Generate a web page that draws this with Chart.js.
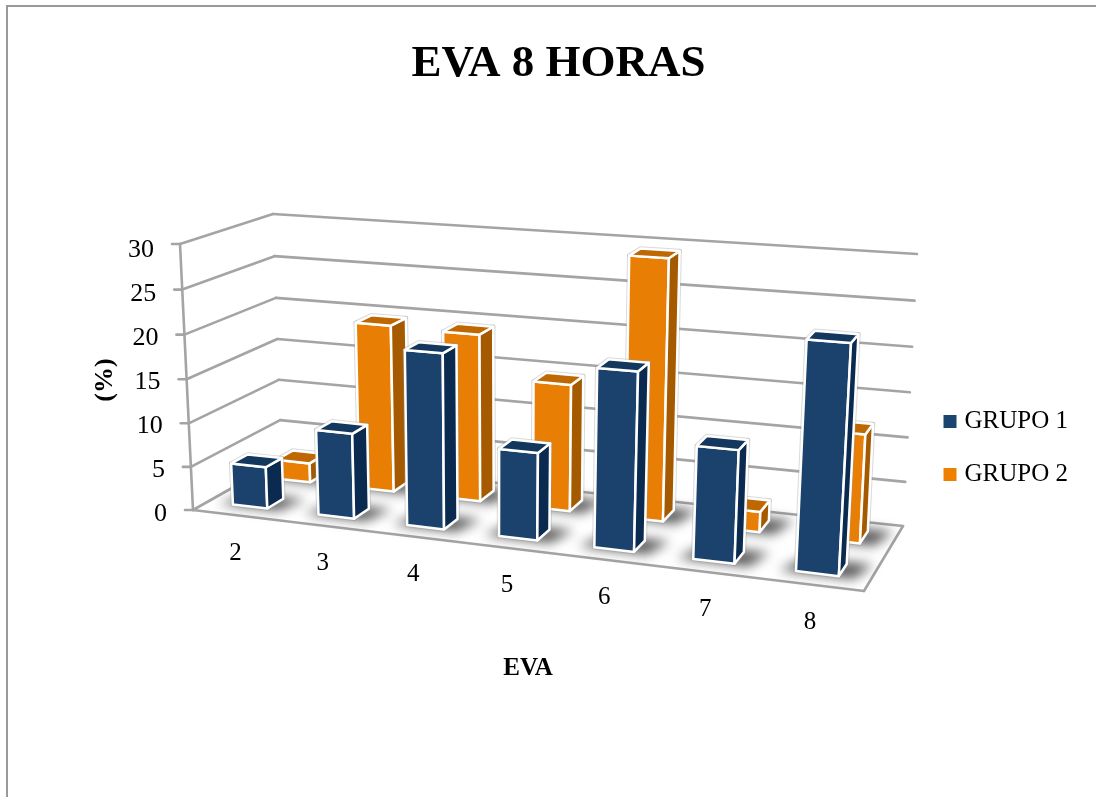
<!doctype html>
<html>
<head>
	<meta charset="utf-8">
	<title>EVA 8 HORAS</title>
	<style>
		body { margin: 0; background: #fff; overflow: hidden; }
		#frame { position: absolute; left: 6px; top: 5px; right: 0; bottom: 0; border-left: 2px solid #999; border-top: 2px solid #999; }
		canvas { position: absolute; left: 0; top: 0; }
	</style>
</head>
<body>
	<div id="frame"></div>
	<canvas id="chart-area" width="1096" height="797"></canvas>
	<script src="https://cdn.jsdelivr.net/npm/chart.js@4/dist/chart.umd.min.js"></script>
	<script>
	const categories = ['2', '3', '4', '5', '6', '7', '8'];
	const grupo1 = [4.8, 9.7, 19.6, 9.7, 19.5, 12.2, 24.3];
	const grupo2 = [2.3, 19.5, 19.3, 14.5, 29.3, 2.3, 12];
	const yMax = 30;
	const yStep = 5;

	// corners of the 3d box on screen: [depth][u], for floor and for top of the walls
	const floorCorners = [[[193, 510], [864, 591]], [[281.5, 460], [903, 526]]];
	const topCorners = [[[180, 244], [881, 296]], [[273, 214], [917, 254]]];
	const rowDepth = [[0.17, 0.36], [0.68, 0.87]]; // depth range of each dataset's row
	const uBend = 1.137;
	const hBend = 1.034;

	function mix(a, b, t) { return a + (b - a) * t; }

	// u = along the categories, d = into the picture, h = height, all 0..1
	function project(u, d, h) {
		const uu = u / (u + uBend * (1 - u));
		const hh = h / (h + hBend * (1 - h));
		const corner = function(c, i) {
			return mix(mix(c[0][0][i], c[0][1][i], uu), mix(c[1][0][i], c[1][1][i], uu), d);
		};
		return [
			mix(corner(floorCorners, 0), corner(topCorners, 0), hh),
			mix(corner(floorCorners, 1), corner(topCorners, 1), hh)
		];
	}

	function poly(ctx, pts) {
		ctx.beginPath();
		pts.forEach(function(p, i) { i ? ctx.lineTo(p[0], p[1]) : ctx.moveTo(p[0], p[1]); });
		ctx.closePath();
	}

	function line(ctx, a, b) {
		ctx.beginPath();
		ctx.moveTo(a[0], a[1]);
		ctx.lineTo(b[0], b[1]);
		ctx.stroke();
	}

	// bar rectangle from the scales -> u range and height
	function barBox(chart, bar) {
		const area = chart.chartArea;
		return {
			u0: (bar.x - bar.width / 2 - area.left) / area.width,
			u1: (bar.x + bar.width / 2 - area.left) / area.width,
			h: (bar.base - bar.y) / area.height
		};
	}

	class Bar3dController extends Chart.BarController {
		draw() {
			const meta = this.getMeta();
			const ctx = this.chart.ctx;
			const chart = this.chart;
			const ds = this.getDataset();
			const d0 = rowDepth[meta.index][0];
			const d1 = rowDepth[meta.index][1];
			ctx.save();
			ctx.lineJoin = 'round';
			meta.data.forEach(function(bar) {
				const b = barBox(chart, bar);
				const faces = [
					[[b.u0, d0, 0], [b.u1, d0, 0], [b.u1, d0, b.h], [b.u0, d0, b.h]],
					[[b.u1, d0, 0], [b.u1, d1, 0], [b.u1, d1, b.h], [b.u1, d0, b.h]],
					[[b.u0, d0, b.h], [b.u1, d0, b.h], [b.u1, d1, b.h], [b.u0, d1, b.h]]
				].map(function(f) { return f.map(function(p) { return project(p[0], p[1], p[2]); }); });
				faces.forEach(function(f) {
					poly(ctx, f);
					ctx.strokeStyle = 'rgba(150,150,150,0.35)';
					ctx.lineWidth = 4.5;
					ctx.stroke();
				});
				faces.forEach(function(f, i) {
					poly(ctx, f);
					ctx.fillStyle = ds.faceColors[i];
					ctx.fill();
					ctx.strokeStyle = '#fff';
					ctx.lineWidth = 2.5;
					ctx.stroke();
				});
			});
			ctx.restore();
		}
	}
	Bar3dController.id = 'bar3d';
	Bar3dController.defaults = Chart.BarController.defaults;
	Bar3dController.overrides = Chart.BarController.overrides;

	// value axis: labels follow the slanted front edge of the left wall
	class WallScale extends Chart.LinearScale {
		_computeLabelArea() { return undefined; }
		_computeLabelItems(area) {
			const scale = this;
			const items = super._computeLabelItems(area);
			items.forEach(function(item) {
				const y = item.options.translation[1];
				const h = (scale.bottom - y) / (scale.bottom - scale.top);
				item.options.translation = [project(0, 0, h)[0] - 26, y + 2];
			});
			return items;
		}
	}
	WallScale.id = 'wallLinear';
	WallScale.defaults = Chart.LinearScale.defaults;

	// category axis: labels follow the slanted front edge of the floor
	class FloorScale extends Chart.CategoryScale {
		_computeLabelItems(area) {
			const scale = this;
			const items = super._computeLabelItems(area);
			items.forEach(function(item) {
				const u = (item.options.translation[0] - scale.left) / scale.width;
				const p = project(u, 0, 0);
				item.options.translation = [p[0], p[1] + 38];
				item.options.textBaseline = 'middle';
				item.textOffset = 0;
			});
			return items;
		}
	}
	FloorScale.id = 'floorCategory';
	FloorScale.defaults = Chart.CategoryScale.defaults;

	Chart.register(Bar3dController, WallScale, FloorScale);

	// walls, floor and bar shadows go under the bars
	const box3d = {
		id: 'box3d',
		afterLayout: function(chart) {
			// legend sits a little below the bottom of the plot box
			chart.legend.top += 3;
			chart.legend.bottom += 3;
		},
		beforeDatasetsDraw: function(chart) {
			const ctx = chart.ctx;
			const ticks = chart.scales.y.ticks;
			ctx.save();
			poly(ctx, [project(0, 0, 0), project(1, 0, 0), project(1, 1, 0), project(0, 1, 0)]);
			ctx.fillStyle = '#fff';
			ctx.fill();
			ctx.strokeStyle = '#a4a4a4';
			ctx.lineWidth = 2.6;
			ctx.lineCap = 'round';
			ticks.forEach(function(t) {
				const h = t.value / yMax;
				const front = project(0, 0, h);
				line(ctx, [front[0] - 8, front[1]], front);
				line(ctx, front, project(0, 1, h));
				line(ctx, project(0, 1, h), project(1, 1, h));
			});
			line(ctx, project(0, 0, 0), project(0, 0, 1));
			line(ctx, project(0, 0, 0), project(1, 0, 0));
			line(ctx, project(1, 0, 0), project(1, 1, 0));

			ctx.filter = 'blur(6px)';
			ctx.fillStyle = 'rgba(60,60,60,0.85)';
			chart.data.datasets.forEach(function(ds, i) {
				const d0 = rowDepth[i][0];
				const d1 = rowDepth[i][1];
				chart.getDatasetMeta(i).data.forEach(function(bar) {
					const b = barBox(chart, bar);
					poly(ctx, [
						project(b.u0 - 0.022, d0 - 0.015, 0), project(b.u1 + 0.02, d0 - 0.015, 0),
						project(b.u1 + 0.034, d1 + 0.03, 0), project(b.u0, d1 + 0.03, 0)
					]);
					ctx.fill();
				});
			});
			ctx.restore();
		}
	};

	const serif = '"Liberation Serif", serif';
	Chart.defaults.color = '#000';
	Chart.defaults.font.family = serif;

	new Chart(document.getElementById('chart-area').getContext('2d'), {
		type: 'bar3d',
		data: {
			labels: categories,
			datasets: [
				{ label: 'GRUPO 1', data: grupo1, backgroundColor: '#1a4570', borderWidth: 0, clip: false,
					faceColors: ['#1a426c', '#0a2a50', '#14375d'] },
				{ label: 'GRUPO 2', data: grupo2, backgroundColor: '#ee8000', borderWidth: 0, clip: false,
					faceColors: ['#e87e04', '#a65a00', '#bf6700'] }
			]
		},
		options: {
			responsive: false,
			animation: false,
			grouped: false,
			categoryPercentage: 1,
			barPercentage: 0.406,
			layout: { padding: { left: 39, right: 18 } },
			scales: {
				x: {
					type: 'floorCategory',
					offset: true,
					grid: { display: false },
					border: { display: false },
					ticks: { font: { size: 25 }, autoSkip: false, maxRotation: 0 },
					title: { display: true, text: 'EVA', font: { size: 25, weight: 'bold' }, padding: { bottom: 113 } },
					afterFit: function(s) { s.height = 285; }
				},
				y: {
					type: 'wallLinear',
					min: 0,
					max: yMax,
					grid: { display: false },
					border: { display: false },
					ticks: { stepSize: yStep, font: { size: 26 } },
					title: { display: true, text: '(%)', font: { size: 26, weight: 'bold' }, padding: { top: 51 } },
					afterFit: function(s) { s.width = 97; }
				}
			},
			plugins: {
				title: {
					display: true,
					text: 'EVA 8 HORAS',
					font: { size: 45, weight: 'bold' },
					padding: { top: 37, bottom: 157 }
				},
				legend: {
					position: 'right',
					fullSize: false,
					align: 'end',
					labels: {
						font: { size: 25 },
						usePointStyle: true,
						pointStyle: 'rect',
						boxWidth: 4,
						boxHeight: 13,
						padding: 28
					}
				},
				tooltip: { enabled: false }
			}
		},
		plugins: [box3d]
	});
	</script>
</body>
</html>
